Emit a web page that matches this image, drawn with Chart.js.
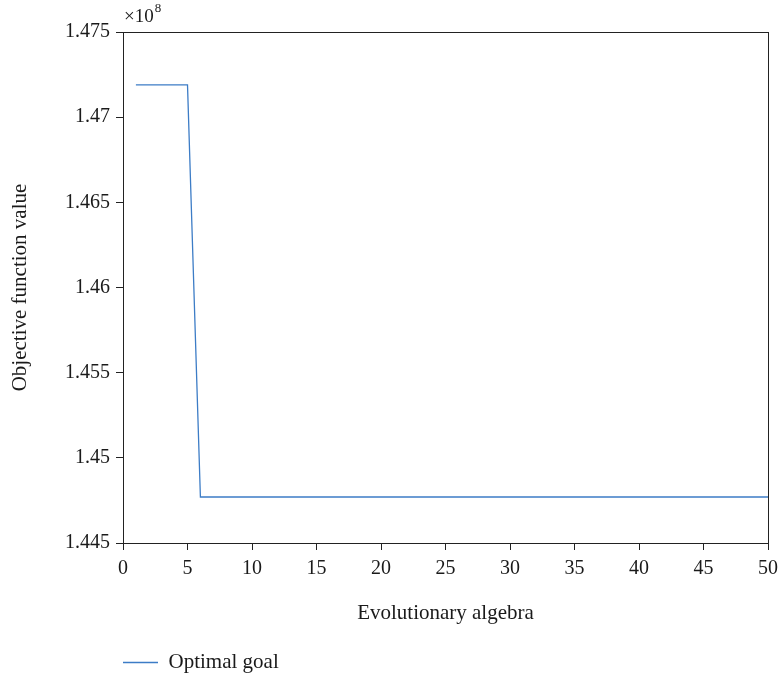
<!DOCTYPE html>
<html>
<head>
<meta charset="utf-8">
<script src="https://cdn.jsdelivr.net/npm/chart.js@4.4.1/dist/chart.umd.min.js"></script>
<style>
  html, body { margin: 0; padding: 0; background: #fff; }
  #wrap { width: 779px; height: 678px; }
</style>
</head>
<body>
<div id="wrap"><canvas id="myChart"></canvas></div>
<script>
// data (values in units of 10^8)
let generations = [1,2,3,4,5,6,7,8,9,10,11,12,13,14,15,16,17,18,19,20,
    21,22,23,24,25,26,27,28,29,30,31,32,33,34,35,36,37,38,39,40,
    41,42,43,44,45,46,47,48,49,50];
let optimalGoal = [1.4719,1.4719,1.4719,1.4719,1.4719,1.4477,1.4477,1.4477,1.4477,1.4477,
    1.4477,1.4477,1.4477,1.4477,1.4477,1.4477,1.4477,1.4477,1.4477,1.4477,
    1.4477,1.4477,1.4477,1.4477,1.4477,1.4477,1.4477,1.4477,1.4477,1.4477,
    1.4477,1.4477,1.4477,1.4477,1.4477,1.4477,1.4477,1.4477,1.4477,1.4477,
    1.4477,1.4477,1.4477,1.4477,1.4477,1.4477,1.4477,1.4477,1.4477,1.4477];
let xTicks = [0,5,10,15,20,25,30,35,40,45,50];
let yTicks = [1.445,1.45,1.455,1.46,1.465,1.47,1.475];
let seriesLabel = 'Optimal goal';
let xTitle = 'Evolutionary algebra';
let yTitle = 'Objective function value';

var serif = "'Liberation Serif', 'DejaVu Serif', serif";
Chart.defaults.font.family = serif;
Chart.defaults.color = '#1a1a1a';

// frame around the plot + the x10^8 exponent
const framePlugin = {
    id: 'frame',
    afterDraw(chart) {
        const a = chart.chartArea;
        const c = chart.ctx;
        c.save();
        c.strokeStyle = '#222';
        c.lineWidth = 1;
        c.strokeRect(a.left + 0.5, a.top + 0.5, a.right - a.left, a.bottom - a.top);
        c.fillStyle = '#1a1a1a';
        c.textBaseline = 'alphabetic';
        c.textAlign = 'left';
        c.font = '19px ' + serif;
        let base = '\u00d710';
        c.fillText(base, a.left + 1, a.top - 10);
        let w = c.measureText(base).width;
        c.font = '13px ' + serif;
        c.fillText('8', a.left + 2 + w, a.top - 20);
        c.restore();
    }
};

var ct = document.getElementById('myChart');
let chart = new Chart(ct, {
    type: 'line',
    data: {
        labels: generations,
        datasets: [{
            label: seriesLabel,
            data: generations.map((g, i) => ({x: g, y: optimalGoal[i]})),
            borderColor: '#3c7cc6',
            backgroundColor: '#3c7cc6',
            borderWidth: 1.3,
            pointRadius: 0,
            tension: 0
        }]
    },
    options: {
        responsive: true,
        maintainAspectRatio: false,
        animation: false,
        layout: { padding: { left: 0, right: 11, top: 32, bottom: -5 } },
        plugins: {
            tooltip: { enabled: false },
            legend: {
                position: 'bottom',
                align: 'start',
                fullSize: false,
                labels: {
                    usePointStyle: true,
                    pointStyle: 'line',
                    pointStyleWidth: 35,
                    padding: 0,
                    font: { size: 21, family: serif },
                    color: '#1a1a1a'
                }
            }
        },
        scales: {
            x: {
                type: 'linear',
                min: 0,
                max: 50,
                afterBuildTicks: s => { s.ticks = xTicks.map(v => ({value: v})); },
                afterFit: s => { s.height = 109; s.paddingLeft = 0; s.paddingRight = 0; },
                ticks: { font: { size: 20 }, padding: 7, maxRotation: 0, color: '#1a1a1a' },
                grid: { display: true, drawOnChartArea: false, tickLength: 7, color: '#222' },
                border: { display: true, color: '#222', width: 1 },
                title: { display: true, text: xTitle, font: { size: 21 }, padding: { top: 0, bottom: 26 }, color: '#1a1a1a' }
            },
            y: {
                min: 1.445,
                max: 1.475,
                afterBuildTicks: s => { s.ticks = yTicks.map(v => ({value: v})); },
                afterFit: s => { s.width = 123; s.paddingTop = 0; s.paddingBottom = 0; },
                ticks: {
                    font: { size: 20 },
                    padding: 6,
                    color: '#1a1a1a',
                    callback: v => String(Number(v.toFixed(3)))
                },
                grid: { display: true, drawOnChartArea: false, tickLength: 7, color: '#222' },
                border: { display: true, color: '#222', width: 1 },
                title: { display: true, text: yTitle, font: { size: 21 }, padding: { top: 8, bottom: 8 }, color: '#1a1a1a' }
            }
        }
    },
    plugins: [framePlugin]
});
</script>
</body>
</html>
